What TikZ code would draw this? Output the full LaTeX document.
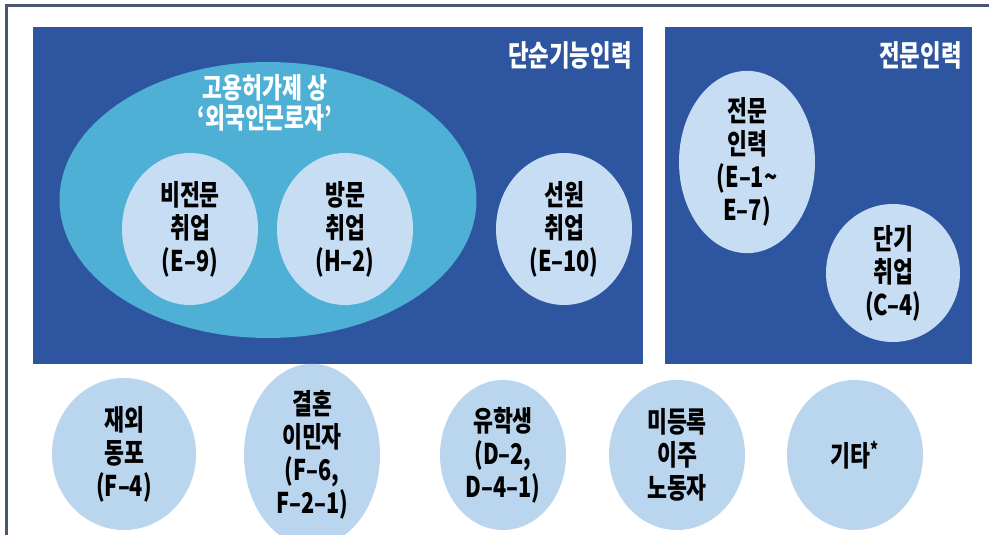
\documentclass[tikz,border=0pt]{standalone}
\usepackage{fontspec}
\setmainfont{Noto Sans CJK KR}[FakeStretch=0.76]
\definecolor{navy}{HTML}{2D55A0}
\definecolor{cyanell}{HTML}{4FB0D6}
\definecolor{innerc}{HTML}{C6DDF3}
\definecolor{outerc}{HTML}{BAD5EE}
\definecolor{framec}{HTML}{4B5670}
\tikzset{
  panel/.style={fill=navy, draw=none},
  bubble/.style={ellipse, draw=none, inner sep=0pt, align=center, text=black,
    font=\bfseries\fontsize{28.5}{33}\selectfont},
  inbubble/.style={bubble, fill=innerc, minimum width=136pt, minimum height=152pt},
  outbubble/.style={bubble, fill=outerc, minimum width=138pt, minimum height=150pt},
  paneltitle/.style={text=white, inner sep=0pt, anchor=east, font=\bfseries\fontsize{29.5}{30}\selectfont},
}
\usetikzlibrary{shapes.geometric}
\begin{document}
\begin{tikzpicture}[x=1pt,y=-1pt]
\useasboundingbox[fill=white] (0,0) rectangle (989,535);
% frame
\draw[framec, line width=3pt] (989,6) -- (6,6) -- (6,535);
% panels
\node[panel, minimum width=610pt, minimum height=337pt, inner sep=0pt, anchor=north west] (simple) at (33,27) {};
\node[panel, minimum width=307pt, minimum height=337pt, inner sep=0pt, anchor=north west] (expert) at (665,27) {};
\node[paneltitle] (simpletitle) at (632,55) {단순기능인력};
\node[paneltitle] (experttitle) at (962,55) {전문인력};
% EPS ellipse
\node[ellipse, fill=cyanell, draw=none, minimum width=417pt, minimum height=276pt, inner sep=0pt] (eps) at (268,200) {};
\node[text=white, align=center, inner sep=0pt, font=\bfseries\fontsize{28.5}{30}\selectfont] (epstitle) at (265,103) {고용허가제 상\\‘외국인근로자’};
% inner bubbles
\node[inbubble] (e9) at (190,229) {비전문\\취업\\(E–9)};
\node[inbubble] (h2) at (345,229) {방문\\취업\\(H–2)};
\node[inbubble] (e10) at (564,229) {선원\\취업\\(E–10)};
\node[inbubble, minimum height=154pt] (e17) at (747,162) {전문\\인력\\(E–1\textasciitilde\\E–7)};
\node[inbubble, minimum width=134pt, minimum height=138pt] (c4) at (893,273) {단기\\취업\\(C–4)};
% outer bubbles
\node[outbubble, minimum width=144pt, minimum height=152pt] (f4) at (124,454) {재외\\동포\\(F–4)};
\node[outbubble, minimum width=136pt] (f6) at (312,455) {결혼\\이민자\\(F–6,\\F–2–1)};
\node[outbubble, minimum width=126pt] (d2) at (503,455) {유학생\\(D–2,\\D–4–1)};
\node[outbubble, minimum width=136pt] (undoc) at (677,455) {미등록\\이주\\노동자};
\node[outbubble, minimum width=136pt] (etc) at (855,455) {기타\textsuperscript{*}};
\end{tikzpicture}
\end{document}
